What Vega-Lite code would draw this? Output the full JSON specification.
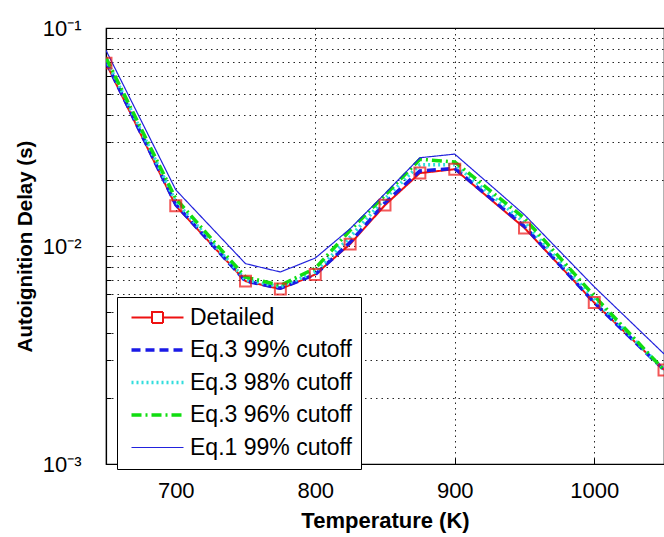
{
  "$schema": "https://vega.github.io/schema/vega-lite/v6.json",
  "width": 558,
  "height": 436,
  "autosize": {"type": "none"},
  "padding": {"left": 106, "top": 28, "right": 0, "bottom": 73},
  "background": "white",
  "config": {
    "font": "Liberation Sans",
    "view": {"stroke": "black", "strokeWidth": 1.2},
    "axis": {"labelFont": "Liberation Sans", "titleFont": "Liberation Sans", "labelColor": "black", "titleColor": "black", "domainColor": "black", "tickColor": "black"}
  },
  "datasets": {
    "d": [
      {"T": 650, "v": 0.0690, "s": "Detailed"},
      {"T": 700, "v": 0.0153, "s": "Detailed"},
      {"T": 750, "v": 0.0069, "s": "Detailed"},
      {"T": 775, "v": 0.00635, "s": "Detailed"},
      {"T": 800, "v": 0.0074, "s": "Detailed"},
      {"T": 825, "v": 0.0102, "s": "Detailed"},
      {"T": 850, "v": 0.0154, "s": "Detailed"},
      {"T": 875, "v": 0.0216, "s": "Detailed"},
      {"T": 900, "v": 0.0225, "s": "Detailed"},
      {"T": 950, "v": 0.0121, "s": "Detailed"},
      {"T": 1000, "v": 0.0055, "s": "Detailed"},
      {"T": 1050, "v": 0.0027, "s": "Detailed"},
      {"T": 650, "v": 0.0700, "s": "Eq.3 99% cutoff"},
      {"T": 700, "v": 0.0155, "s": "Eq.3 99% cutoff"},
      {"T": 750, "v": 0.0069, "s": "Eq.3 99% cutoff"},
      {"T": 775, "v": 0.0064, "s": "Eq.3 99% cutoff"},
      {"T": 800, "v": 0.0074, "s": "Eq.3 99% cutoff"},
      {"T": 825, "v": 0.0104, "s": "Eq.3 99% cutoff"},
      {"T": 850, "v": 0.0158, "s": "Eq.3 99% cutoff"},
      {"T": 875, "v": 0.0221, "s": "Eq.3 99% cutoff"},
      {"T": 900, "v": 0.0227, "s": "Eq.3 99% cutoff"},
      {"T": 950, "v": 0.0123, "s": "Eq.3 99% cutoff"},
      {"T": 1000, "v": 0.0055, "s": "Eq.3 99% cutoff"},
      {"T": 1050, "v": 0.0027, "s": "Eq.3 99% cutoff"},
      {"T": 650, "v": 0.0720, "s": "Eq.3 98% cutoff"},
      {"T": 700, "v": 0.0160, "s": "Eq.3 98% cutoff"},
      {"T": 750, "v": 0.0070, "s": "Eq.3 98% cutoff"},
      {"T": 775, "v": 0.0065, "s": "Eq.3 98% cutoff"},
      {"T": 800, "v": 0.0076, "s": "Eq.3 98% cutoff"},
      {"T": 825, "v": 0.0110, "s": "Eq.3 98% cutoff"},
      {"T": 850, "v": 0.0165, "s": "Eq.3 98% cutoff"},
      {"T": 875, "v": 0.0236, "s": "Eq.3 98% cutoff"},
      {"T": 900, "v": 0.0236, "s": "Eq.3 98% cutoff"},
      {"T": 950, "v": 0.0128, "s": "Eq.3 98% cutoff"},
      {"T": 1000, "v": 0.0057, "s": "Eq.3 98% cutoff"},
      {"T": 1050, "v": 0.0027, "s": "Eq.3 98% cutoff"},
      {"T": 650, "v": 0.0730, "s": "Eq.3 96% cutoff"},
      {"T": 700, "v": 0.0165, "s": "Eq.3 96% cutoff"},
      {"T": 750, "v": 0.0072, "s": "Eq.3 96% cutoff"},
      {"T": 775, "v": 0.0066, "s": "Eq.3 96% cutoff"},
      {"T": 800, "v": 0.0079, "s": "Eq.3 96% cutoff"},
      {"T": 825, "v": 0.0118, "s": "Eq.3 96% cutoff"},
      {"T": 850, "v": 0.0171, "s": "Eq.3 96% cutoff"},
      {"T": 875, "v": 0.0250, "s": "Eq.3 96% cutoff"},
      {"T": 900, "v": 0.0243, "s": "Eq.3 96% cutoff"},
      {"T": 950, "v": 0.0134, "s": "Eq.3 96% cutoff"},
      {"T": 1000, "v": 0.0059, "s": "Eq.3 96% cutoff"},
      {"T": 1050, "v": 0.0027, "s": "Eq.3 96% cutoff"},
      {"T": 650, "v": 0.0790, "s": "Eq.1 99% cutoff"},
      {"T": 700, "v": 0.0181, "s": "Eq.1 99% cutoff"},
      {"T": 750, "v": 0.0083, "s": "Eq.1 99% cutoff"},
      {"T": 775, "v": 0.0076, "s": "Eq.1 99% cutoff"},
      {"T": 800, "v": 0.0088, "s": "Eq.1 99% cutoff"},
      {"T": 825, "v": 0.0120, "s": "Eq.1 99% cutoff"},
      {"T": 850, "v": 0.0174, "s": "Eq.1 99% cutoff"},
      {"T": 875, "v": 0.0254, "s": "Eq.1 99% cutoff"},
      {"T": 900, "v": 0.0264, "s": "Eq.1 99% cutoff"},
      {"T": 950, "v": 0.0139, "s": "Eq.1 99% cutoff"},
      {"T": 1000, "v": 0.0065, "s": "Eq.1 99% cutoff"},
      {"T": 1050, "v": 0.0032, "s": "Eq.1 99% cutoff"}
    ]
  },
  "data": {"name": "d"},
  "encoding": {
    "x": {
      "field": "T", "type": "quantitative",
      "scale": {"domain": [650, 1050], "nice": false, "zero": false},
      "axis": {
        "title": "Temperature (K)", "titleFontSize": 22, "titleFontWeight": "bold",
        "titleBaseline": "middle", "titleY": 56,
        "values": [700, 800, 900, 1000], "format": "d", "labelFontSize": 22, "labelPadding": 22, "tickSize": -6,
        "grid": true, "gridColor": "black", "gridDash": [1.5, 4], "gridOpacity": 0.85, "domain": true, "domainWidth": 1.2
      }
    },
    "y": {
      "field": "v", "type": "quantitative",
      "scale": {"type": "log", "domain": [0.001, 0.1], "nice": false},
      "axis": {
        "title": "Autoignition Delay (s)", "titleFontSize": 20.5, "titleFontWeight": "bold",
        "titleBaseline": "middle", "titleX": -81,
        "values": [0.001, 0.002, 0.003, 0.004, 0.005, 0.006, 0.007, 0.008, 0.009, 0.01, 0.02, 0.03, 0.04, 0.05, 0.06, 0.07, 0.08, 0.09, 0.1],
        "labelExpr": "datum.value == 0.001 ? '10⁻³' : datum.value == 0.01 ? '10⁻²' : datum.value == 0.1 ? '10⁻¹' : ''",
        "labelFontSize": 22, "labelPadding": 30, "tickSize": -5,
        "grid": true, "gridColor": "black", "gridDash": [1.5, 4], "gridOpacity": 0.85, "domainWidth": 1.2
      }
    }
  },
  "layer": [
    {
      "mark": {"type": "line", "clip": true},
      "encoding": {
        "color": {
          "field": "s", "type": "nominal",
          "scale": {"domain": ["Detailed", "Eq.3 99% cutoff", "Eq.3 98% cutoff", "Eq.3 96% cutoff", "Eq.1 99% cutoff"],
                    "range": ["#ee1111", "#1a1ae6", "#33dddd", "#11dd11", "#2222dd"]},
          "legend": {
            "title": null, "orient": "none", "legendX": 11, "legendY": 269,
            "fillColor": "white", "strokeColor": "black", "padding": 9,
            "labelFont": "Liberation Sans", "labelFontSize": 23, "labelColor": "black", "labelLimit": 300,
            "symbolSize": 100, "symbolOffset": 20, "labelOffset": 21, "rowPadding": 8.5,
            "symbolFillColor": "transparent",
            "encode": {
              "symbols": {"update": {
                "shape": {"signal": "datum.value === 'Detailed' ? 'M-5.2,0H-1.1M1.1,0H5.2M-1.1,-1.1H1.1V1.1H-1.1Z' : 'M-5.2,0H5.2'"},
                "strokeWidth": {"signal": "datum.value === 'Eq.1 99% cutoff' ? 1.2 : datum.value === 'Detailed' ? 2 : 3.5"},
                "fill": {"value": "transparent"}
              }}
            }
          }
        },
        "strokeDash": {
          "field": "s", "type": "nominal",
          "scale": {"domain": ["Detailed", "Eq.3 99% cutoff", "Eq.3 98% cutoff", "Eq.3 96% cutoff", "Eq.1 99% cutoff"],
                    "range": [[1, 0], [9, 5], [2, 3], [10, 4, 2, 4], [1, 0]]},
          "legend": {"title": null}
        },
        "strokeWidth": {
          "condition": [
            {"test": "datum.s === 'Eq.1 99% cutoff'", "value": 1.2},
            {"test": "datum.s === 'Detailed'", "value": 2}
          ],
          "value": 3.5
        }
      }
    },
    {
      "transform": [{"filter": "datum.s === 'Detailed'"}],
      "mark": {"type": "point", "shape": "square", "size": 120, "filled": false, "color": "#ee1111", "strokeWidth": 2, "clip": true}
    }
  ]
}
